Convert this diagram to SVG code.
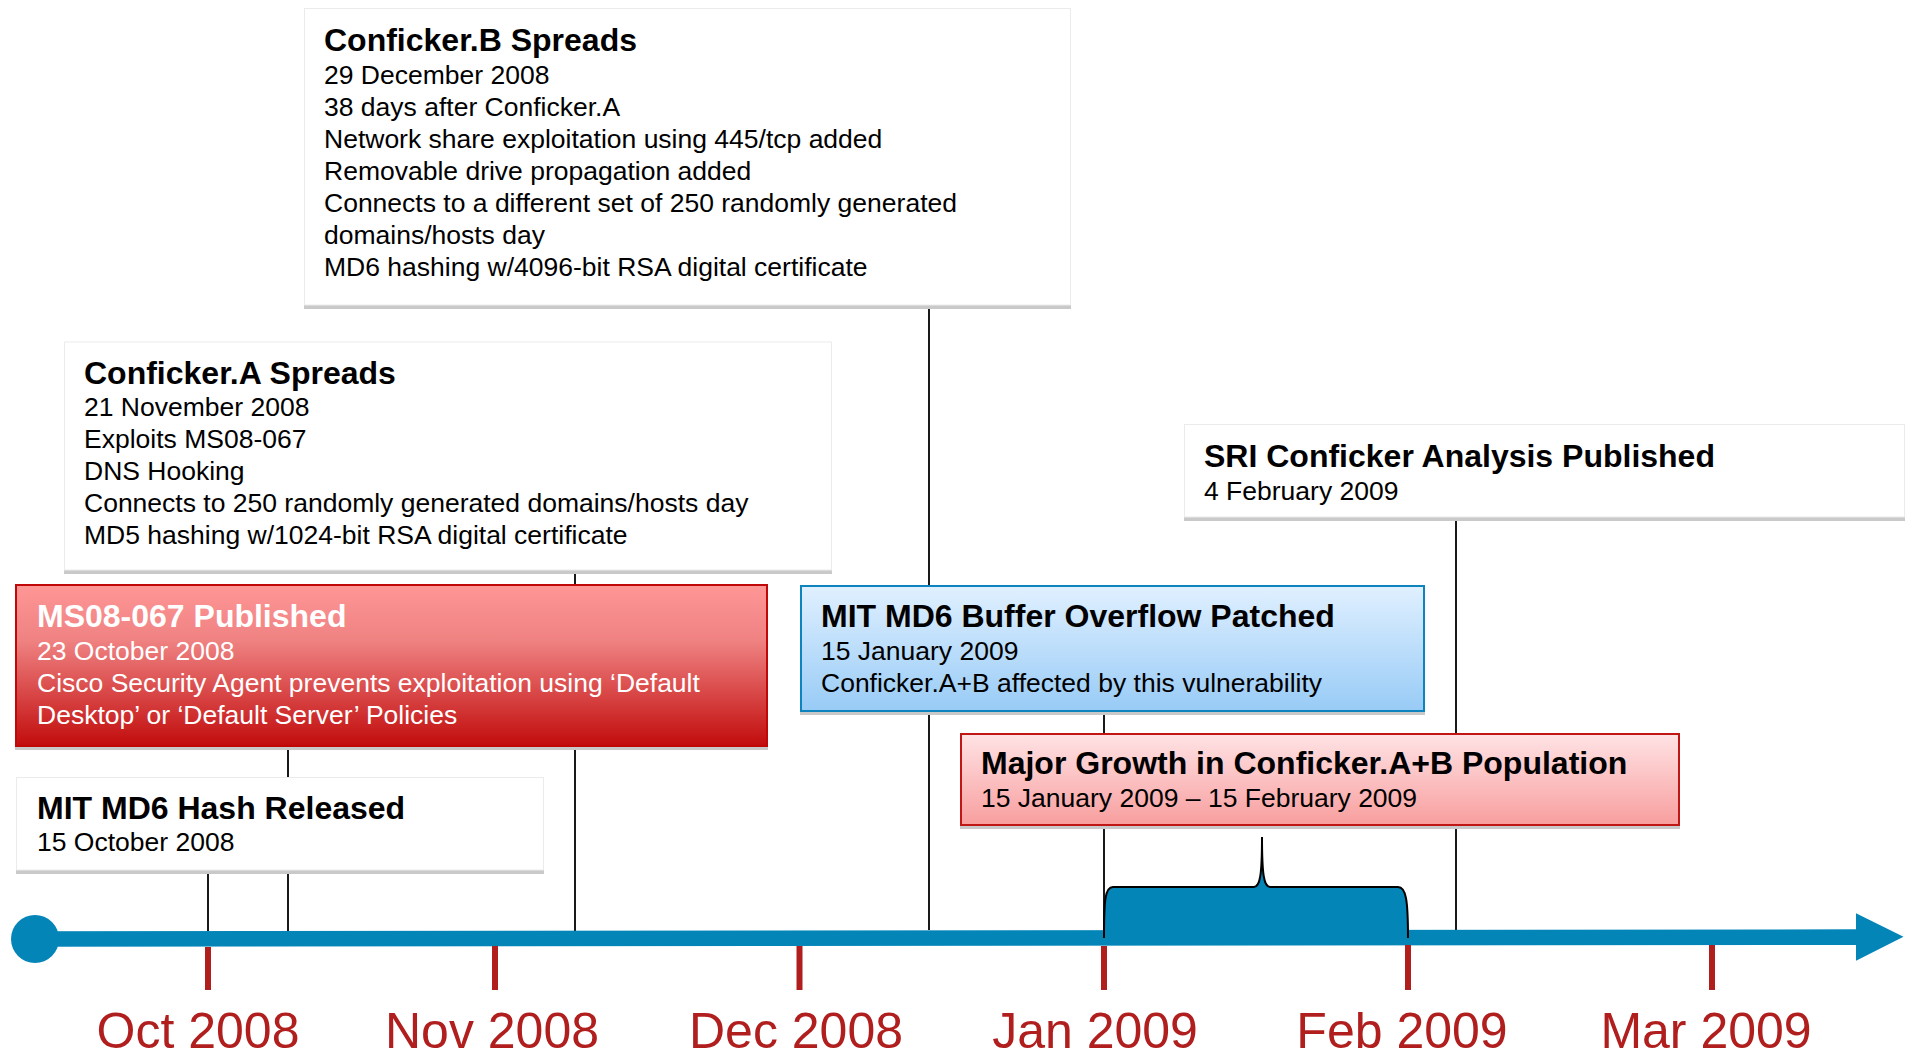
<svg xmlns="http://www.w3.org/2000/svg" width="1911" height="1059" viewBox="0 0 1911 1059">
  <defs>
    <linearGradient id="gradRed" x1="0" y1="0" x2="0" y2="1">
      <stop offset="0" stop-color="#FF9696"/>
      <stop offset="0.35" stop-color="#EF8181"/>
      <stop offset="1" stop-color="#C20C0C"/>
    </linearGradient>
    <linearGradient id="gradBlue" x1="0" y1="0" x2="0" y2="1">
      <stop offset="0" stop-color="#E0F0FF"/>
      <stop offset="1" stop-color="#98CBF6"/>
    </linearGradient>
    <linearGradient id="gradPink" x1="0" y1="0" x2="0" y2="1">
      <stop offset="0" stop-color="#FFE3E5"/>
      <stop offset="1" stop-color="#F89E9E"/>
    </linearGradient>
    <style>
      text { font-family: "Liberation Sans", Arial, sans-serif; }
      .title { font-size: 32px; font-weight: bold; fill: #000; }
      .body { font-size: 26.5px; fill: #000; }
      .inv { fill: #FFFFFF; }
      .month { font-size: 50px; fill: #B01E1E; text-anchor: middle; }
      .plain { fill: #FFFFFF; stroke: #EBEBEB; stroke-width: 1; }
      .shadow { fill: #C9C9C9; }
      .red { fill: url(#gradRed); stroke: #C00808; stroke-width: 2; }
      .blue { fill: url(#gradBlue); stroke: #0D84BE; stroke-width: 2; }
      .pink { fill: url(#gradPink); stroke: #C01616; stroke-width: 2; }
      .link { stroke: #000; stroke-width: 1.8; fill: none; }
      .tick { stroke: #B01E1E; stroke-width: 6; }
    </style>
  </defs>

  <!-- leader lines from the event boxes down to the time axis -->
  <g id="connectors">
    <line class="link" x1="208" y1="874" x2="208" y2="931"/>
    <line class="link" x1="288" y1="750" x2="288" y2="931"/>
    <line class="link" x1="575" y1="574" x2="575" y2="931"/>
    <line class="link" x1="929" y1="309" x2="929" y2="930"/>
    <line class="link" x1="1104" y1="715" x2="1104" y2="937"/>
    <line class="link" x1="1456" y1="521" x2="1456" y2="930"/>
  </g>

  <!-- time axis -->
  <g id="axis">
    <polygon fill="#0385B8" points="35,931.2 1856,929.3 1856,913.3 1903.5,936.8 1856,960.7 1856,945 35,946.8"/>
    <circle cx="35" cy="939" r="24" fill="#0385B8"/>
    <line class="tick" x1="208" y1="947" x2="208" y2="990"/>
    <line class="tick" x1="495" y1="946" x2="495" y2="990"/>
    <line class="tick" x1="799.5" y1="946" x2="799.5" y2="990"/>
    <line class="tick" x1="1104" y1="946" x2="1104" y2="990"/>
    <line class="tick" x1="1408" y1="945" x2="1408" y2="990"/>
    <line class="tick" x1="1712" y1="945" x2="1712" y2="990"/>
    <text class="month" x="198" y="1048">Oct 2008</text>
    <text class="month" x="492" y="1048">Nov 2008</text>
    <text class="month" x="796" y="1048">Dec 2008</text>
    <text class="month" x="1095" y="1048">Jan 2009</text>
    <text class="month" x="1402" y="1048">Feb 2009</text>
    <text class="month" x="1706" y="1048">Mar 2009</text>
  </g>

  <!-- brace marking the growth period -->
  <g id="growth-brace">
    <path d="M1104,938 C1104,900 1105,887 1113,887 L1254,887 C1260,887 1262,875 1262,837 C1262,875 1264,887 1270,887 L1398,887 C1406,887 1408,900 1408,938 Z" fill="#0385B8"/>
    <path d="M1104,938 C1104,900 1105,887 1113,887 L1254,887 C1260,887 1262,875 1262,837 C1262,875 1264,887 1270,887 L1398,887 C1406,887 1408,900 1408,938" fill="none" stroke="#000" stroke-width="2"/>
  </g>

  <g id="conficker-b">
    <rect class="shadow" x="304" y="305" width="767" height="4"/>
    <rect class="plain" x="304.5" y="8.5" width="766" height="296.5"/>
    <text class="title" x="324" y="51">Conficker.B Spreads</text>
    <text class="body" x="324" y="83.5">29 December 2008</text>
    <text class="body" x="324" y="115.5">38 days after Conficker.A</text>
    <text class="body" x="324" y="147.5">Network share exploitation using 445/tcp added</text>
    <text class="body" x="324" y="179.5">Removable drive propagation added</text>
    <text class="body" x="324" y="211.5">Connects to a different set of 250 randomly generated</text>
    <text class="body" x="324" y="243.5">domains/hosts day</text>
    <text class="body" x="324" y="275.5">MD6 hashing w/4096-bit RSA digital certificate</text>
  </g>

  <g id="conficker-a">
    <rect class="shadow" x="64" y="570" width="768" height="4"/>
    <rect class="plain" x="64.5" y="342" width="767" height="228"/>
    <text class="title" x="84" y="383.5">Conficker.A Spreads</text>
    <text class="body" x="84" y="415.5">21 November 2008</text>
    <text class="body" x="84" y="447.5">Exploits MS08-067</text>
    <text class="body" x="84" y="479.5">DNS Hooking</text>
    <text class="body" x="84" y="511.5">Connects to 250 randomly generated domains/hosts day</text>
    <text class="body" x="84" y="543.5">MD5 hashing w/1024-bit RSA digital certificate</text>
  </g>

  <g id="sri-analysis">
    <rect class="shadow" x="1184" y="517" width="721" height="4"/>
    <rect class="plain" x="1184.5" y="424.5" width="720" height="92.5"/>
    <text class="title" x="1204" y="467">SRI Conficker Analysis Published</text>
    <text class="body" x="1204" y="500">4 February 2009</text>
  </g>

  <g id="ms08-067">
    <rect class="shadow" x="15" y="746" width="753" height="4"/>
    <rect class="red" x="16" y="585" width="751" height="161"/>
    <text class="title inv" x="37" y="627">MS08-067 Published</text>
    <text class="body inv" x="37" y="659.5">23 October 2008</text>
    <text class="body inv" x="37" y="691.5">Cisco Security Agent prevents exploitation using ‘Default</text>
    <text class="body inv" x="37" y="723.5">Desktop’ or ‘Default Server’ Policies</text>
  </g>

  <g id="md6-hash">
    <rect class="shadow" x="16" y="870" width="528" height="4"/>
    <rect class="plain" x="16.5" y="777.5" width="527" height="92.5"/>
    <text class="title" x="37" y="818.5">MIT MD6 Hash Released</text>
    <text class="body" x="37" y="851">15 October 2008</text>
  </g>

  <g id="md6-patch">
    <rect class="shadow" x="800" y="711" width="625" height="4"/>
    <rect class="blue" x="801" y="586" width="623" height="125"/>
    <text class="title" x="821" y="627">MIT MD6 Buffer Overflow Patched</text>
    <text class="body" x="821" y="659.5">15 January 2009</text>
    <text class="body" x="821" y="691.5">Conficker.A+B affected by this vulnerability</text>
  </g>

  <g id="major-growth">
    <rect class="shadow" x="960" y="825" width="720" height="4"/>
    <rect class="pink" x="961" y="734" width="718" height="91"/>
    <text class="title" x="981" y="773.5">Major Growth in Conficker.A+B Population</text>
    <text class="body" x="981" y="807">15 January 2009 – 15 February 2009</text>
  </g>
</svg>
